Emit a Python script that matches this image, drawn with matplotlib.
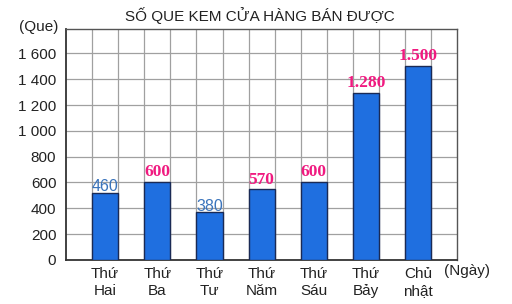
import matplotlib.pyplot as plt
import numpy as np

# data
days = ["Thứ\nHai", "Thứ\nBa", "Thứ\nTư", "Thứ\nNăm", "Thứ\nSáu", "Thứ\nBảy", "Chủ\nnhật"]
bar_heights = [520, 605, 368, 548, 605, 1295, 1505]
value_labels = ["460", "600", "380", "570", "600", "1.280", "1.500"]
label_is_pink = [False, True, False, True, True, True, True]
y_ticks = [0, 200, 400, 600, 800, 1000, 1200, 1400, 1600]
y_tick_labels = ["0", "200", "400", "600", "800", "1 000", "1 200", "1 400", "1 600"]

plt.rcParams["font.family"] = ["Liberation Sans", "DejaVu Sans"]

fig = plt.figure(figsize=(5.12, 3.04), dpi=100)
ax = fig.add_axes([0.129, 0.145, 0.764, 0.760])

# bars sit on every other grid column
x = np.arange(len(days)) * 2 + 1.5
ax.bar(x, bar_heights, width=1.0, color="#1f6fe0", edgecolor="#1a2a55", linewidth=1.0, zorder=3)

ax.set_xlim(0, 15)
ax.set_ylim(0, 1790)

# grid
for gx in range(1, 15):
    ax.axvline(gx, color="#a0a0a0", linewidth=0.9, zorder=1)
for gy in range(200, 1800, 200):
    ax.axhline(gy, color="#a0a0a0", linewidth=0.9, zorder=1)

for side in ["top", "right"]:
    ax.spines[side].set_color("#555555")
    ax.spines[side].set_linewidth(1.0)
for side in ["left", "bottom"]:
    ax.spines[side].set_color("#333333")
    ax.spines[side].set_linewidth(1.3)

ax.set_yticks(y_ticks)
ax.set_yticklabels(y_tick_labels, fontsize=11, color="#222222")
ax.set_xticks(x)
ax.set_xticklabels(days, fontsize=11, color="#222222", linespacing=1.3)
ax.tick_params(axis="both", length=0, pad=7)
ax.tick_params(axis="x", pad=5)

# value labels
for xi, h, lab, pink in zip(x, bar_heights, value_labels, label_is_pink):
    if pink:
        ax.annotate(lab, (xi, h), xytext=(0, 1), textcoords="offset points",
                    ha="center", va="bottom", fontsize=12.5, fontweight="bold",
                    family="Liberation Serif", color="#f01a80", zorder=4)
    else:
        ax.annotate(lab, (xi, h), xytext=(0, -1), textcoords="offset points",
                    ha="center", va="bottom", fontsize=11.5,
                    color="#3a74bc", zorder=4)

fig.text(0.508, 0.948, "SỐ QUE KEM CỬA HÀNG BÁN ĐƯỢC", ha="center", va="center",
         fontsize=11, color="#222222")
fig.text(0.076, 0.91, "(Que)", ha="center", va="center", fontsize=11, color="#222222")
fig.text(0.913, 0.108, "(Ngày)", ha="center", va="center", fontsize=11, color="#222222")

fig.savefig("out.png", dpi=100)
